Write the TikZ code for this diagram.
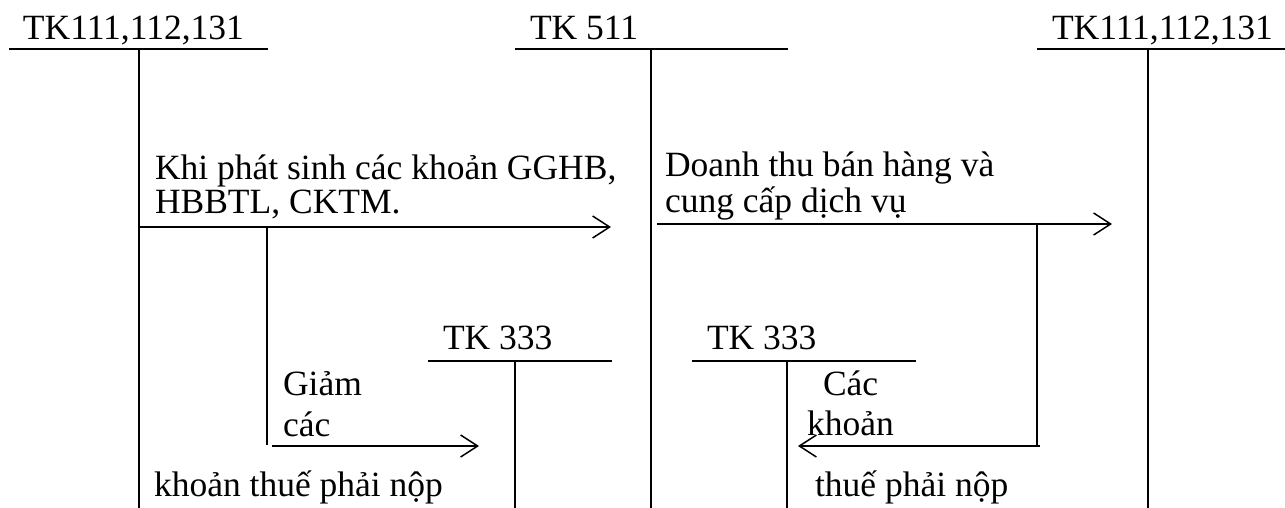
\documentclass[tikz,border=0pt]{standalone}
\usepackage{fontspec}
\setmainfont{Liberation Serif}
\usetikzlibrary{arrows.meta}
\begin{document}
\begin{tikzpicture}[x=1pt,y=-1pt,
  tline/.style={line width=2pt},
  flow/.style={line width=1.5pt,-{Straight Barb[length=17pt,width=22pt]}},
  link/.style={line width=1.5pt},
  lbl/.style={inner sep=0pt,outer sep=0pt,anchor=base west,font=\fontsize{35.5}{34}\selectfont}]
\useasboundingbox (0,0) rectangle (1285,508);

% T-account TK111,112,131 (left)
\coordinate (a1l) at (9,49);   \coordinate (a1r) at (268,49);
\coordinate (a1t) at (139,49); \coordinate (a1b) at (139,508);
\node[lbl] (a1) at (23,40) {TK111,112,131};
\draw[tline] (a1l) -- (a1r);
\draw[tline] (a1t) -- (a1b);

% T-account TK 511
\coordinate (a2l) at (515,49); \coordinate (a2r) at (788,49);
\coordinate (a2t) at (651,49); \coordinate (a2b) at (651,508);
\node[lbl] (a2) at (530,40) {TK 511};
\draw[tline] (a2l) -- (a2r);
\draw[tline] (a2t) -- (a2b);

% T-account TK111,112,131 (right)
\coordinate (a3l) at (1037,49); \coordinate (a3r) at (1285,49);
\coordinate (a3t) at (1148,49); \coordinate (a3b) at (1148,508);
\node[lbl] (a3) at (1052,40) {TK111,112,131};
\draw[tline] (a3l) -- (a3r);
\draw[tline] (a3t) -- (a3b);

% T-account TK 333 (left)
\coordinate (a4l) at (428,361); \coordinate (a4r) at (612,361);
\coordinate (a4t) at (515,361); \coordinate (a4b) at (515,508);
\node[lbl] (a4) at (443,349) {TK 333};
\draw[tline] (a4l) -- (a4r);
\draw[tline] (a4t) -- (a4b);

% T-account TK 333 (right)
\coordinate (a5l) at (692,361); \coordinate (a5r) at (916,361);
\coordinate (a5t) at (787,361); \coordinate (a5b) at (787,508);
\node[lbl] (a5) at (707,349) {TK 333};
\draw[tline] (a5l) -- (a5r);
\draw[tline] (a5t) -- (a5b);

% Discounts and returns: TK111 -> TK511
\coordinate (f1s) at (139,227); \coordinate (f1e) at (611,227);
\draw[flow] (f1s) -- (f1e);
\node[lbl] (t1a) at (155,179) {Khi phát sinh các khoản GGHB,};
\node[lbl] (t1b) at (155,213) {HBBTL, CKTM.};

% Tax reduction branch -> TK 333
\coordinate (b1s) at (267,227); \coordinate (b1e) at (267,445);
\draw[link] (b1s) -- (b1e);
\coordinate (f2s) at (272,446); \coordinate (f2e) at (479,446);
\draw[flow] (f2s) -- (f2e);
\node[lbl] (t2a) at (283,395) {Giảm};
\node[lbl] (t2b) at (283,436) {các};
\node[lbl] (t2c) at (154,496) {khoản thuế phải nộp};

% Revenue: TK511 -> TK111
\coordinate (f3s) at (657,224); \coordinate (f3e) at (1112,224);
\draw[flow] (f3s) -- (f3e);
\node[lbl] (t3a) at (665,176) {Doanh thu bán hàng và};
\node[lbl] (t3b) at (665,212) {cung cấp dịch vụ};

% Output tax branch -> TK 333
\coordinate (b2s) at (1037,224); \coordinate (b2e) at (1037,446);
\draw[link] (b2s) -- (b2e);
\coordinate (f4s) at (1040,446); \coordinate (f4e) at (798,446);
\draw[flow] (f4s) -- (f4e);
\node[lbl] (t4a) at (823,395) {Các};
\node[lbl] (t4b) at (807,435) {khoản};
\node[lbl] (t4c) at (815,496) {thuế phải nộp};
\end{tikzpicture}
\end{document}
